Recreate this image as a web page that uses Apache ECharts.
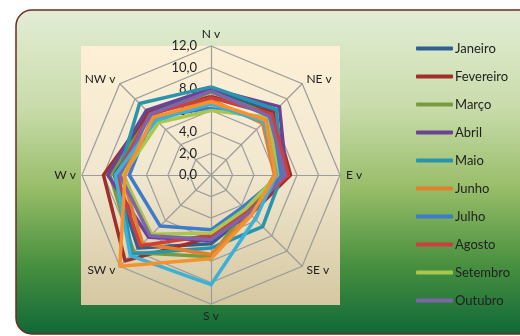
<!DOCTYPE html>
<html>
<head>
<meta charset="utf-8">
<script src="https://cdn.jsdelivr.net/npm/echarts@6/dist/echarts.min.js"></script>
<style>
  html, body { margin: 0; padding: 0; background: #fff; }
  #chart { width: 520px; height: 336px; }
</style>
</head>
<body>
<div id="chart"></div>
<script>
// compass order: N, NE, E, SE, S, SW, W, NW
const directions = ['N v', 'NE v', 'E v', 'SE v', 'S v', 'SW v', 'W v', 'NW v'];
const months = ['Janeiro', 'Fevereiro', 'Março', 'Abril', 'Maio', 'Junho', 'Julho', 'Agosto', 'Setembro', 'Outubro', 'Novembro', 'Dezembro'];
const legendMonths = months.slice(0, 10); // legend is cut off after Outubro

const janeiro   = [7.9, 8.3, 6.8, 5.0, 6.4, 9.6, 9.0, 8.3];
const fevereiro = [7.3, 8.2, 7.4, 5.2, 5.8, 11.3, 10.0, 8.2];
const marco     = [7.7, 7.9, 6.4, 4.6, 7.6, 10.2, 9.4, 7.9];
const abril     = [8.0, 9.0, 7.0, 5.0, 6.1, 8.2, 9.6, 8.5];
const maio      = [8.2, 8.6, 6.6, 6.8, 6.8, 10.4, 8.6, 9.4];
const junho     = [7.0, 6.8, 5.9, 5.2, 7.4, 9.0, 8.3, 7.4];
const julho     = [6.2, 7.4, 6.5, 4.2, 5.1, 6.7, 7.6, 7.7];
const agosto    = [7.2, 8.0, 7.2, 4.8, 5.6, 9.3, 8.8, 8.0];
const setembro  = [6.0, 7.6, 6.2, 4.5, 5.4, 7.8, 8.2, 6.9];
const outubro   = [7.8, 7.7, 6.9, 5.0, 6.0, 8.0, 8.5, 8.0];
const novembro  = [6.6, 7.0, 6.1, 5.8, 10.2, 10.6, 8.9, 7.2];
const dezembro  = [6.8, 7.2, 6.0, 5.3, 7.8, 12.0, 8.0, 7.6];

const seriesValues = [janeiro, fevereiro, marco, abril, maio, junho, julho, agosto, setembro, outubro, novembro, dezembro];
const colors = ['#2f5f93', '#a22e2b', '#7a9b3c', '#6a4394', '#2994ad', '#e27f2a',
                '#3b7ccc', '#cc3f3c', '#a8c74c', '#7e64aa', '#3cb1d8', '#f39231'];

const axisMax = 12;
const tickStep = 2;

// radar draws indicators counter-clockwise from the top
const order = [0, 7, 6, 5, 4, 3, 2, 1];

const chart = echarts.init(document.getElementById('chart'));

const indicators = order.map((i, k) => {
  const ind = { name: directions[i], min: 0, max: axisMax };
  if (k === 0) {
    ind.axisLabel = { show: true };
  }
  return ind;
});

chart.setOption({
  animation: false,
  color: colors,
  textStyle: { fontFamily: 'Lato, "Open Sans", sans-serif' },
  graphic: [
    {
      type: 'rect',
      z: -10,
      shape: { x: 16, y: 10, width: 530, height: 324, r: 16 },
      style: {
        fill: new echarts.graphic.LinearGradient(0, 0, 0, 1, [
          { offset: 0, color: '#e3edd6' },
          { offset: 0.3, color: '#c9dcab' },
          { offset: 0.55, color: '#98bd68' },
          { offset: 0.78, color: '#4a9140' },
          { offset: 1, color: '#0f6838' }
        ]),
        stroke: '#6e2b22',
        lineWidth: 1.5
      }
    },
    {
      type: 'rect',
      z: -9,
      shape: { x: 81, y: 46, width: 259, height: 259 },
      style: {
        fill: new echarts.graphic.LinearGradient(0, 0, 0, 1, [
          { offset: 0, color: '#fdf0d6' },
          { offset: 0.5, color: '#f1e7cf' },
          { offset: 1, color: '#d5c7a1' }
        ])
      }
    }
  ],
  legend: {
    orient: 'vertical',
    left: 411,
    top: 37,
    data: legendMonths,
    icon: 'roundRect',
    itemWidth: 37,
    itemHeight: 4,
    itemGap: 15,
    textStyle: { fontSize: 13, color: '#222', padding: [0, 0, 0, -3] }
  },
  radar: {
    center: [211, 175],
    radius: 129,
    shape: 'polygon',
    splitNumber: axisMax / tickStep,
    indicator: indicators,
    nameGap: 6,
    axisName: { color: '#222', fontSize: 12 },
    splitArea: { show: false },
    splitLine: { lineStyle: { color: '#9c9c9c', width: 1.2 } },
    axisLine: { lineStyle: { color: '#9c9c9c', width: 1.2 } },
    axisTick: { show: false },
    axisLabel: {
      show: false,
      color: '#222',
      fontSize: 13,
      margin: 14,
      formatter: v => v.toFixed(1).replace('.', ',')
    }
  },
  series: [{
    type: 'radar',
    symbol: 'none',
    lineStyle: { width: 3.5 },
    data: seriesValues.map((vals, s) => ({
      name: months[s],
      value: order.map(i => vals[i]),
      lineStyle: { color: colors[s], width: 3.5 },
      itemStyle: { color: colors[s] }
    }))
  }]
});
</script>
</body>
</html>
